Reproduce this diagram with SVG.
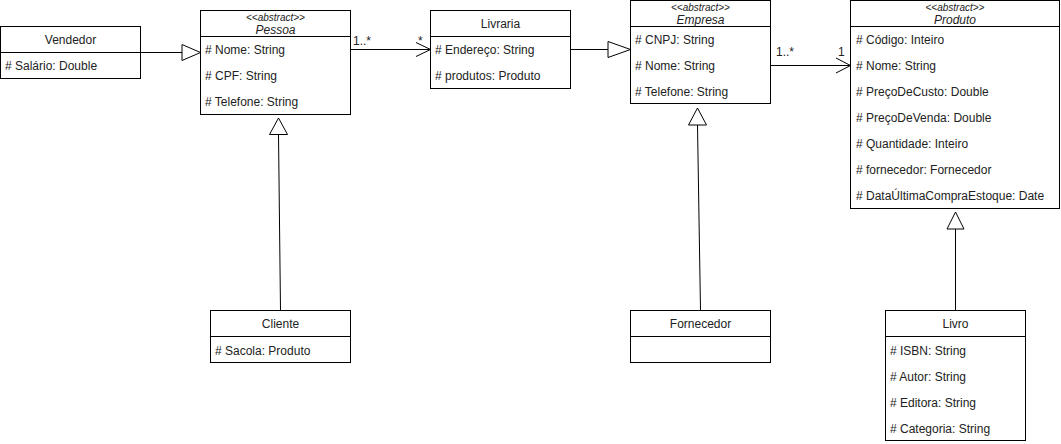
<svg xmlns="http://www.w3.org/2000/svg" width="1061" height="444" viewBox="0 0 1061 444">
<style>
.box{fill:#fff;stroke:#000;stroke-width:1}
.ln{stroke:#000;stroke-width:1;fill:none}
.tri{fill:#fff;stroke:#000;stroke-width:1}
text{font-family:"Liberation Sans",Arial,sans-serif;font-size:12px;fill:#222}
.c{text-anchor:middle}
.st{font-size:10px;font-style:italic}
.it{font-style:italic}
</style>
<rect width="1061" height="444" fill="#fff"/>
<g id="connectors">
  <line class="ln" x1="140.5" y1="52.5" x2="182" y2="52.5"/>
  <polygon class="tri" points="182,44.5 200.5,52.5 182,60.5"/>
  <line class="ln" x1="280.5" y1="310.5" x2="278.5" y2="134.5"/>
  <polygon class="tri" points="269.5,134.5 278.5,118 287.5,134.5"/>
  <line class="ln" x1="350.5" y1="49.5" x2="430" y2="49.5"/>
  <polyline class="ln" points="416,42.5 430.5,49.5 416,56.5"/>
  <text x="353" y="45">1..*</text>
  <text x="418" y="45">*</text>
  <line class="ln" x1="570.5" y1="49.5" x2="608" y2="49.5"/>
  <polygon class="tri" points="608,41.5 630.5,49.5 608,57.5"/>
  <line class="ln" x1="700.5" y1="310.5" x2="697.5" y2="125"/>
  <polygon class="tri" points="688.5,125 697.5,108 706.5,125"/>
  <line class="ln" x1="770.5" y1="65.5" x2="850" y2="65.5"/>
  <polyline class="ln" points="836,58 850.5,65.5 836,73"/>
  <text x="776" y="56">1..*</text>
  <text x="838" y="56">1</text>
  <line class="ln" x1="955.5" y1="310.5" x2="955.5" y2="229"/>
  <polygon class="tri" points="947,229 955.5,212 964,229"/>
</g>
<g id="Vendedor">
  <rect class="box" x="0.5" y="26.5" width="140" height="52"/>
  <line class="ln" x1="0.5" y1="52.5" x2="140.5" y2="52.5"/>
  <text class="c" x="70.5" y="44">Vendedor</text>
  <text x="5" y="70">#&#160;Salário: Double</text>
</g>
<g id="Pessoa">
  <rect class="box" x="200.5" y="10.5" width="150" height="104"/>
  <line class="ln" x1="200.5" y1="36.5" x2="350.5" y2="36.5"/>
  <text class="c st" x="275.5" y="21">&lt;&lt;abstract&gt;&gt;</text>
  <text class="c it" x="275.5" y="34">Pessoa</text>
  <text x="205" y="53.5"># Nome: String</text>
  <text x="205" y="79.5"># CPF: String</text>
  <text x="205" y="105.5"># Telefone: String</text>
</g>
<g id="Livraria">
  <rect class="box" x="430.5" y="10.5" width="140" height="78"/>
  <line class="ln" x1="430.5" y1="36.5" x2="570.5" y2="36.5"/>
  <text class="c" x="500.5" y="28">Livraria</text>
  <text x="435" y="53.5"># Endereço: String</text>
  <text x="435" y="79.5"># produtos: Produto</text>
</g>
<g id="Empresa">
  <rect class="box" x="630.5" y="0.5" width="140" height="103"/>
  <line class="ln" x1="630.5" y1="26.5" x2="770.5" y2="26.5"/>
  <text class="c st" x="700.5" y="11">&lt;&lt;abstract&gt;&gt;</text>
  <text class="c it" x="700.5" y="24">Empresa</text>
  <text x="635" y="44"># CNPJ: String</text>
  <text x="635" y="70"># Nome: String</text>
  <text x="635" y="96"># Telefone: String</text>
</g>
<g id="Produto">
  <rect class="box" x="850.5" y="0.5" width="209" height="208"/>
  <line class="ln" x1="850.5" y1="26.5" x2="1059.5" y2="26.5"/>
  <text class="c st" x="955" y="11">&lt;&lt;abstract&gt;&gt;</text>
  <text class="c it" x="955" y="24">Produto</text>
  <text x="856" y="44"># Código: Inteiro</text>
  <text x="856" y="70"># Nome: String</text>
  <text x="856" y="96"># PreçoDeCusto: Double</text>
  <text x="856" y="122"># PreçoDeVenda: Double</text>
  <text x="856" y="148"># Quantidade: Inteiro</text>
  <text x="856" y="174"># fornecedor: Fornecedor</text>
  <text x="856" y="200"># DataÚltimaCompraEstoque: Date</text>
</g>
<g id="Cliente">
  <rect class="box" x="210.5" y="310.5" width="140" height="52"/>
  <line class="ln" x1="210.5" y1="336.5" x2="350.5" y2="336.5"/>
  <text class="c" x="280.5" y="328">Cliente</text>
  <text x="215" y="354.5"># Sacola: Produto</text>
</g>
<g id="Fornecedor">
  <rect class="box" x="630.5" y="310.5" width="140" height="52"/>
  <line class="ln" x1="630.5" y1="336.5" x2="770.5" y2="336.5"/>
  <text class="c" x="700.5" y="328">Fornecedor</text>
</g>
<g id="Livro">
  <rect class="box" x="885.5" y="310.5" width="140" height="130"/>
  <line class="ln" x1="885.5" y1="336.5" x2="1025.5" y2="336.5"/>
  <text class="c" x="955.5" y="328">Livro</text>
  <text x="890" y="354.5"># ISBN: String</text>
  <text x="890" y="380.5"># Autor: String</text>
  <text x="890" y="406.5"># Editora: String</text>
  <text x="890" y="432.5"># Categoria: String</text>
</g>
</svg>
